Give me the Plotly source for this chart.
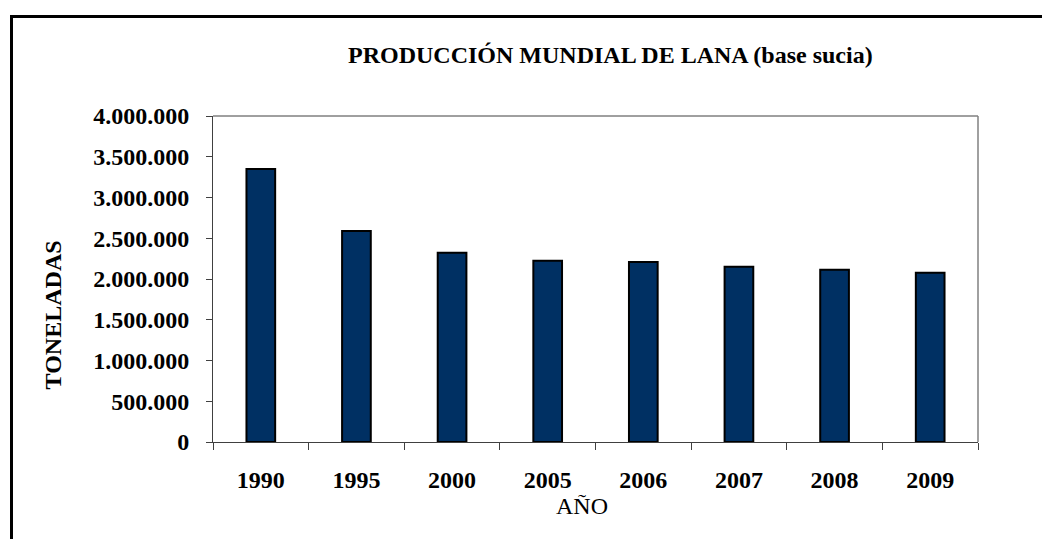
import plotly.graph_objects as go

years = ["1990", "1995", "2000", "2005", "2006", "2007", "2008", "2009"]
toneladas = [3350000, 2588000, 2322000, 2224000, 2208000, 2150000, 2114000, 2077000]
y_ticks = [0, 500000, 1000000, 1500000, 2000000, 2500000, 3000000, 3500000, 4000000]

# page body has an 8px default margin; work in figure coordinates = screen - 8
OFF = 8
W, H = 1050 - OFF, 539 - OFF
L, R, T, B = 213 - OFF, 978 - OFF, 115.5 - OFF, 441.7 - OFF
pw, ph = R - L, B - T

def px_x(x):
    return (x - OFF - L) / pw

def px_y(y):
    return 1 - (y - OFF - T) / ph

FONT = "Liberation Serif"

fig = go.Figure(go.Bar(
    x=years, y=toneladas,
    marker=dict(color="#003063", line=dict(color="#000000", width=2)),
))

fig.update_layout(
    width=W, height=H,
    margin=dict(l=L, r=W - R, t=T, b=H - B, pad=0),
    paper_bgcolor="white", plot_bgcolor="white",
    separators=",.",
    bargap=0.7,
    showlegend=False,
    font=dict(family=FONT, size=24, color="black"),
)
fig.update_xaxes(
    type="category", showline=True, linecolor="#404040", linewidth=1,
    ticks="outside", ticklen=7, tickcolor="#404040", tickson="boundaries",
    tickfont=dict(family=FONT, size=24, color="black", weight="bold"),
    ticklabelstandoff=16, showgrid=False,
)
fig.update_yaxes(
    range=[0, 4000000], showline=True, linecolor="#404040", linewidth=1,
    ticks="outside", ticklen=6, tickcolor="#404040",
    tickvals=y_ticks, tickformat=",d",
    tickfont=dict(family=FONT, size=24, color="black", weight="bold"),
    ticklabelstandoff=12, showgrid=False, zeroline=False,
)

shapes = [
    # plot area top & right border
    dict(type="line", xref="paper", yref="paper", x0=0, x1=1, y0=1, y1=1,
         line=dict(color="#404040", width=1)),
    dict(type="line", xref="paper", yref="paper", x0=1, x1=1, y0=0, y1=1,
         line=dict(color="#808080", width=1.5)),
    # outer frame (top & left)
    dict(type="line", xref="paper", yref="paper", x0=px_x(11.5), x1=px_x(1048),
         y0=px_y(16), y1=px_y(16), line=dict(color="black", width=3)),
    dict(type="line", xref="paper", yref="paper", x0=px_x(11.5), x1=px_x(11.5),
         y0=px_y(14.5), y1=px_y(560), line=dict(color="black", width=3)),
]
fig.update_layout(shapes=shapes)

fig.add_annotation(text="PRODUCCIÓN MUNDIAL DE LANA (base sucia)", xref="paper", yref="paper",
                   x=px_x(610), y=px_y(54), showarrow=False, xanchor="center", yanchor="middle",
                   font=dict(family=FONT, size=24, color="black", weight="bold"))
fig.add_annotation(text="TONELADAS", xref="paper", yref="paper", textangle=-90,
                   x=px_x(53), y=px_y(315), showarrow=False, xanchor="center", yanchor="middle",
                   font=dict(family=FONT, size=24, color="black", weight="bold"))
fig.add_annotation(text="AÑO", xref="paper", yref="paper",
                   x=px_x(582), y=px_y(506), showarrow=False, xanchor="center", yanchor="middle",
                   font=dict(family=FONT, size=24, color="black"))

fig.write_html("out.html")
